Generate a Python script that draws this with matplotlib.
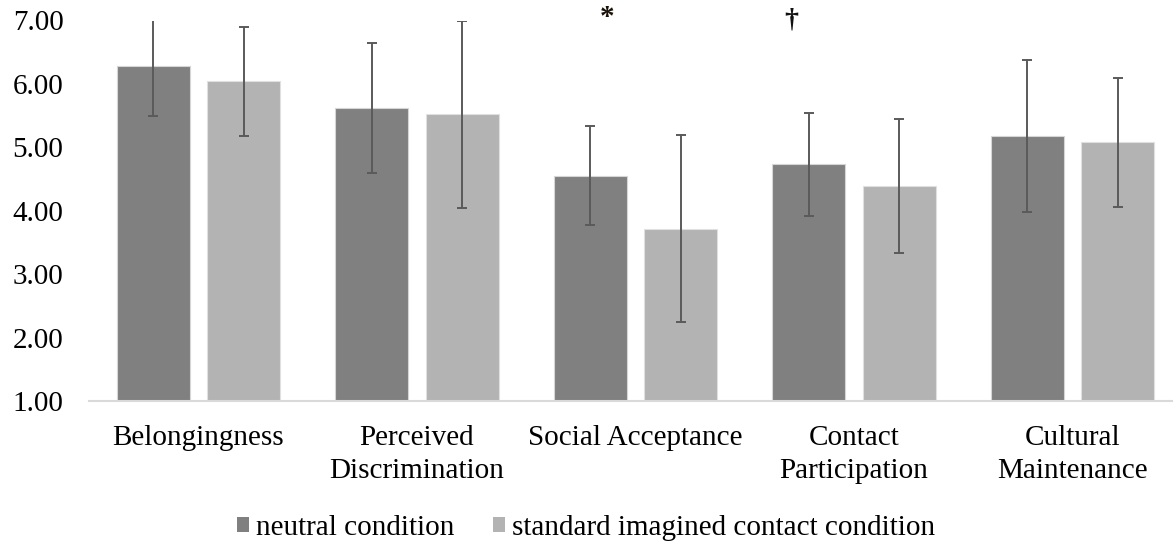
import matplotlib
matplotlib.use("Agg")
import matplotlib.pyplot as plt
import numpy as np
from matplotlib.patches import Patch

categories = ["Belongingness", "Perceived\nDiscrimination", "Social Acceptance",
              "Contact\nParticipation", "Cultural\nMaintenance"]
series_names = ["neutral condition", "standard imagined contact condition"]
neutral = [6.28, 5.62, 4.55, 4.73, 5.18]
imagined = [6.04, 5.52, 3.72, 4.39, 5.08]
neutral_err = [0.78, 1.02, 0.78, 0.81, 1.20]
imagined_err = [0.86, 1.47, 1.47, 1.05, 1.02]
yticks = [1, 2, 3, 4, 5, 6, 7]
marks = ["*", "†"]

plt.rcParams['font.family'] = ['Liberation Serif', 'DejaVu Serif']

W, H = 1173, 546
fig = plt.figure(figsize=(W / 100, H / 100), dpi=100)
ax_left, ax_right = 89.15, 89.15 + 5 * 218.5
ax_top, ax_bot = 20.5, 401
ax = fig.add_axes([ax_left / W, 1 - ax_bot / H, (ax_right - ax_left) / W, (ax_bot - ax_top) / H])

x = np.arange(len(categories))
bw = 0.334
off = 0.207
c1, c2 = "#808080", "#b3b3b3"
ecol = "#5a5a5a"
fs = 21
ax.bar(x - off, [v - 1 for v in neutral], bw, bottom=1, color=c1, edgecolor="#d6d6d6", linewidth=0.8, zorder=2)
ax.bar(x + off, [v - 1 for v in imagined], bw, bottom=1, color=c2, edgecolor="#e0e0e0", linewidth=0.8, zorder=2)
ax.errorbar(x - off, neutral, yerr=neutral_err, fmt="none", ecolor=ecol, elinewidth=1.4, capsize=3.8, capthick=1.4, zorder=3)
ax.errorbar(x + off, imagined, yerr=imagined_err, fmt="none", ecolor=ecol, elinewidth=1.4, capsize=3.8, capthick=1.4, zorder=3)

ax.set_xlim(-0.5, len(categories) - 0.5)
ax.set_ylim(1, 7)
ax.set_yticks(yticks)
ax.set_yticklabels([f"{t:.2f}" for t in yticks], fontsize=fs)
ax.set_xticks(x)
ax.set_xticklabels(categories, fontsize=fs, linespacing=1.36, va="top")
ax.tick_params(axis="y", length=0, pad=18.5)
ax.tick_params(axis="x", length=0, pad=17)
for s in ["top", "right", "left"]:
    ax.spines[s].set_visible(False)
ax.spines["bottom"].set_color("#d9d9d9")
ax.spines["bottom"].set_linewidth(1.5)

ax.text(1.869, 7.05, marks[0], ha="center", va="center", fontsize=21, fontweight="bold",
        color="#1a1208", clip_on=False)
ax.text(2.715, 7.0, marks[1], ha="center", va="center", fontsize=20, fontweight="bold",
        color="#111111", clip_on=False)

handles = [Patch(facecolor=c1, edgecolor="none"), Patch(facecolor=c2, edgecolor="none")]
fig.legend(handles, series_names, loc="center", bbox_to_anchor=(586 / W, 1 - 528 / H), ncol=2,
           frameon=False, fontsize=fs, handlelength=0.42, handleheight=0.42, handletextpad=0.25,
           columnspacing=1.3, borderpad=0)

fig.savefig("out.png", dpi=100)
